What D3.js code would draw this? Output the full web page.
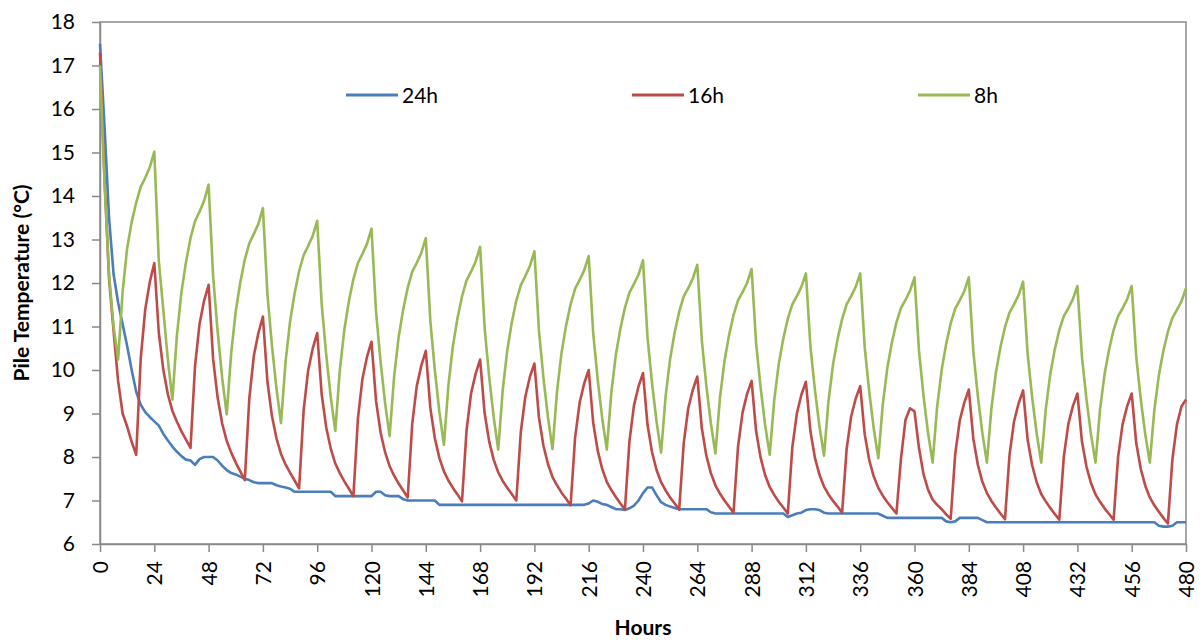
<!DOCTYPE html>
<html><head><meta charset="utf-8">
<script src="https://cdn.jsdelivr.net/npm/d3@7"></script>
<style>
body{margin:0;background:#fff}
svg{display:block}
text{font-family:Lato,"Liberation Sans",sans-serif;fill:#000}
</style>
</head><body>
<svg id="chart" width="1201" height="640"></svg>
<script>
// ---- data (2-hour resolution) ----
const hours = [0,2,4,6,8,10,12,14,16,18,20,22,24,26,28,30,32,34,36,38,40,42,44,46,48,
50,52,54,56,58,60,62,64,66,68,70,72,74,76,78,80,82,84,86,88,90,92,94,96,
98,100,102,104,106,108,110,112,114,116,118,120,122,124,126,128,130,132,134,136,138,140,142,144,
146,148,150,152,154,156,158,160,162,164,166,168,170,172,174,176,178,180,182,184,186,188,190,192,
194,196,198,200,202,204,206,208,210,212,214,216,218,220,222,224,226,228,230,232,234,236,238,240,
242,244,246,248,250,252,254,256,258,260,262,264,266,268,270,272,274,276,278,280,282,284,286,288,
290,292,294,296,298,300,302,304,306,308,310,312,314,316,318,320,322,324,326,328,330,332,334,336,
338,340,342,344,346,348,350,352,354,356,358,360,362,364,366,368,370,372,374,376,378,380,382,384,
386,388,390,392,394,396,398,400,402,404,406,408,410,412,414,416,418,420,422,424,426,428,430,432,
434,436,438,440,442,444,446,448,450,452,454,456,458,460,462,464,466,468,470,472,474,476,478,480];

const series24h = [17.5,15.6,13.5,12.2,11.55,11.05,10.55,10.0,9.5,9.2,9.03,8.92,8.82,8.72,8.53,8.38,8.24,8.12,8.02,7.94,7.92,7.82,7.95,8.0,8.0,
8.0,7.92,7.8,7.7,7.63,7.6,7.55,7.5,7.47,7.42,7.4,7.4,7.4,7.4,7.35,7.32,7.3,7.27,7.2,7.2,7.2,7.2,7.2,7.2,
7.2,7.2,7.2,7.1,7.1,7.1,7.1,7.1,7.1,7.1,7.1,7.1,7.2,7.2,7.12,7.1,7.1,7.1,7.03,7.0,7.0,7.0,7.0,7.0,
7.0,7.0,6.9,6.9,6.9,6.9,6.9,6.9,6.9,6.9,6.9,6.9,6.9,6.9,6.9,6.9,6.9,6.9,6.9,6.9,6.9,6.9,6.9,6.9,
6.9,6.9,6.9,6.9,6.9,6.9,6.9,6.9,6.9,6.9,6.9,6.93,7.0,6.97,6.92,6.9,6.85,6.8,6.8,6.78,6.82,6.88,7.0,7.17,
7.3,7.3,7.12,6.96,6.9,6.86,6.83,6.8,6.8,6.8,6.8,6.8,6.8,6.8,6.73,6.7,6.7,6.7,6.7,6.7,6.7,6.7,6.7,6.7,
6.7,6.7,6.7,6.7,6.7,6.7,6.7,6.62,6.66,6.7,6.72,6.78,6.8,6.8,6.78,6.72,6.7,6.7,6.7,6.7,6.7,6.7,6.7,6.7,
6.7,6.7,6.7,6.7,6.65,6.6,6.6,6.6,6.6,6.6,6.6,6.6,6.6,6.6,6.6,6.6,6.6,6.6,6.52,6.5,6.52,6.6,6.6,6.6,
6.6,6.6,6.55,6.5,6.5,6.5,6.5,6.5,6.5,6.5,6.5,6.5,6.5,6.5,6.5,6.5,6.5,6.5,6.5,6.5,6.5,6.5,6.5,6.5,
6.5,6.5,6.5,6.5,6.5,6.5,6.5,6.5,6.5,6.5,6.5,6.5,6.5,6.5,6.5,6.5,6.5,6.42,6.4,6.4,6.42,6.5,6.5,6.5];

const series16h = [17.3,14.4,12.1,10.9,9.75,9.0,8.7,8.35,8.05,10.26,11.40,12.02,12.46,10.85,10.0,9.44,9.06,8.81,8.59,8.40,8.21,10.09,11.06,11.59,11.96,
10.25,9.36,8.77,8.37,8.10,7.87,7.67,7.47,9.35,10.33,10.85,11.23,9.73,8.94,8.43,8.07,7.83,7.64,7.46,7.28,9.07,9.99,10.49,10.85,
9.43,8.68,8.19,7.85,7.63,7.44,7.27,7.10,8.88,9.80,10.30,10.65,9.29,8.57,8.11,7.79,7.57,7.39,7.23,7.07,8.76,9.63,10.10,10.44,
9.13,8.43,7.98,7.67,7.46,7.29,7.14,6.98,8.61,9.46,9.91,10.24,9.01,8.36,7.94,7.65,7.45,7.29,7.15,7.00,8.58,9.39,9.84,10.15,
8.91,8.26,7.84,7.54,7.35,7.18,7.04,6.89,8.45,9.25,9.69,10.00,8.78,8.14,7.72,7.43,7.24,7.08,6.93,6.79,8.36,9.18,9.62,9.93,
8.74,8.11,7.70,7.42,7.23,7.07,6.93,6.79,8.32,9.12,9.54,9.85,8.66,8.03,7.63,7.35,7.16,7.00,6.86,6.72,8.24,9.02,9.45,9.75,
8.59,7.98,7.58,7.31,7.13,6.97,6.84,6.70,8.22,9.00,9.43,9.73,8.59,7.98,7.59,7.32,7.14,6.99,6.86,6.72,8.18,8.93,9.34,9.63,
8.52,7.93,7.55,7.29,7.11,6.96,6.83,6.70,7.95,8.85,9.12,9.05,8.2,7.6,7.25,7.02,6.9,6.8,6.68,6.58,8.07,8.84,9.25,9.55,
8.42,7.82,7.43,7.17,6.99,6.84,6.70,6.57,8.05,8.82,9.23,9.53,8.40,7.81,7.42,7.15,6.98,6.83,6.69,6.56,8.01,8.76,9.17,9.46,
8.36,7.78,7.40,7.14,6.97,6.82,6.69,6.56,8.01,8.76,9.17,9.46,8.32,7.73,7.34,7.07,6.89,6.74,6.60,6.47,7.95,8.75,9.16,9.32];

const series8h = [17.0,14.3,12.2,11.0,10.24,11.8,12.8,13.4,13.85,14.21,14.42,14.66,15.02,12.5,11.37,10.23,9.32,10.80,11.79,12.48,13.03,13.42,13.64,13.89,14.26,
12.15,10.88,9.82,8.98,10.40,11.35,12.01,12.54,12.91,13.13,13.36,13.72,11.74,10.56,9.57,8.78,10.18,11.11,11.76,12.27,12.64,12.85,13.08,13.43,
11.50,10.34,9.37,8.60,10.00,10.93,11.58,12.09,12.46,12.67,12.90,13.25,11.34,10.20,9.24,8.48,9.85,10.76,11.39,11.89,12.26,12.46,12.69,13.03,
11.13,9.99,9.04,8.28,9.65,10.56,11.19,11.69,12.06,12.26,12.49,12.83,10.97,9.85,8.92,8.17,9.54,10.45,11.09,11.59,11.95,12.16,12.39,12.73,
10.91,9.82,8.91,8.18,9.51,10.40,11.02,11.51,11.87,12.07,12.29,12.62,10.84,9.77,8.88,8.17,9.48,10.35,10.95,11.43,11.78,11.98,12.19,12.52,
10.75,9.69,8.81,8.10,9.40,10.26,10.86,11.34,11.69,11.88,12.10,12.42,10.68,9.64,8.77,8.08,9.35,10.20,10.79,11.26,11.60,11.79,12.00,12.32,
10.61,9.59,8.73,8.05,9.30,10.14,10.72,11.18,11.51,11.70,11.91,12.22,10.54,9.54,8.70,8.03,9.29,10.13,10.71,11.17,11.51,11.70,11.91,12.22,
10.52,9.50,8.65,7.97,9.22,10.05,10.63,11.09,11.42,11.61,11.82,12.13,10.43,9.40,8.55,7.87,9.15,10.00,10.60,11.07,11.41,11.60,11.81,12.13,
10.43,9.40,8.55,7.87,9.12,9.95,10.53,10.99,11.32,11.51,11.72,12.03,10.37,9.37,8.54,7.87,9.09,9.90,10.47,10.92,11.24,11.42,11.63,11.93,
10.31,9.33,8.52,7.87,9.09,9.90,10.47,10.92,11.24,11.42,11.63,11.93,10.31,9.33,8.52,7.87,9.07,9.88,10.44,10.88,11.20,11.38,11.58,11.88];

const seriesNames = ["24h","16h","8h"];
const xTicks = [0,24,48,72,96,120,144,168,192,216,240,264,288,312,336,360,384,408,432,456,480];
const yTicks = [6,7,8,9,10,11,12,13,14,15,16,17,18];
const xTitle = "Hours";
const yTitle = "Pile Temperature (°C)";

// ---- drawing ----
const colors = ["#4A7EBB","#BE4B48","#98B954"];
const allSeries = [series24h, series16h, series8h];
const svg = d3.select("#chart");
const L = 100, R = 1186, T = 22, B = 544;
const x = d3.scaleLinear().domain([0,480]).range([L,R]);
const y = d3.scaleLinear().domain([6,18]).range([B,T]);
const axisColor = "#8a8a8a";

svg.append("rect").attr("width",1201).attr("height",640).attr("fill","#fff");

// frame
svg.append("rect").attr("x",L).attr("y",T).attr("width",R-L).attr("height",B-T)
  .attr("fill","none").attr("stroke",axisColor).attr("stroke-width",1.5);

// y axis
const gy = svg.append("g").attr("transform",`translate(${L},0)`)
  .call(d3.axisLeft(y).tickValues(yTicks).tickSize(8).tickSizeOuter(0).tickPadding(17).tickFormat(d3.format("d")));
gy.select(".domain").attr("stroke",axisColor).attr("stroke-width",1.5);
gy.selectAll(".tick line").attr("stroke",axisColor).attr("stroke-width",1.5);
gy.selectAll(".tick text").attr("font-size",21).attr("font-family","Lato, 'Liberation Sans', sans-serif").attr("fill","#000");

// x axis
const gx = svg.append("g").attr("transform",`translate(0,${B})`)
  .call(d3.axisBottom(x).tickValues(xTicks).tickSize(8).tickSizeOuter(0).tickFormat(d3.format("d")));
gx.select(".domain").attr("stroke",axisColor).attr("stroke-width",1.5);
gx.selectAll(".tick line").attr("stroke",axisColor).attr("stroke-width",1.5);
gx.selectAll(".tick text")
  .attr("font-size",21).attr("font-family","Lato, 'Liberation Sans', sans-serif").attr("fill","#000")
  .attr("transform","rotate(-90)").attr("x",-17).attr("y",0).attr("dy","0.36em")
  .style("text-anchor","end");

// lines
const line = d3.line().x((d,i)=>x(hours[i])).y(d=>y(d)).curve(d3.curveLinear);
allSeries.forEach((s,k)=>{
  svg.append("path").datum(s).attr("d",line).attr("fill","none")
    .attr("stroke",colors[k]).attr("stroke-width",2.6).attr("stroke-linejoin","round");
});

// legend
const lg = svg.append("g");
seriesNames.forEach((n,k)=>{
  const x0 = 346 + k*286;
  lg.append("line").attr("x1",x0).attr("x2",x0+52).attr("y1",95).attr("y2",95)
    .attr("stroke",colors[k]).attr("stroke-width",3);
  lg.append("text").attr("x",x0+56).attr("y",95).attr("dy","0.36em")
    .attr("font-size",21).text(n);
});

// titles
svg.append("text").attr("x",(L+R)/2).attr("y",635).attr("text-anchor","middle")
  .attr("font-size",21).attr("font-weight","bold").text(xTitle);
svg.append("text").attr("transform",`translate(21,${(T+B)/2}) rotate(-90)`)
  .attr("text-anchor","middle").attr("dy","0.36em")
  .attr("font-size",21).attr("font-weight","bold").text(yTitle);
</script>
</body></html>
